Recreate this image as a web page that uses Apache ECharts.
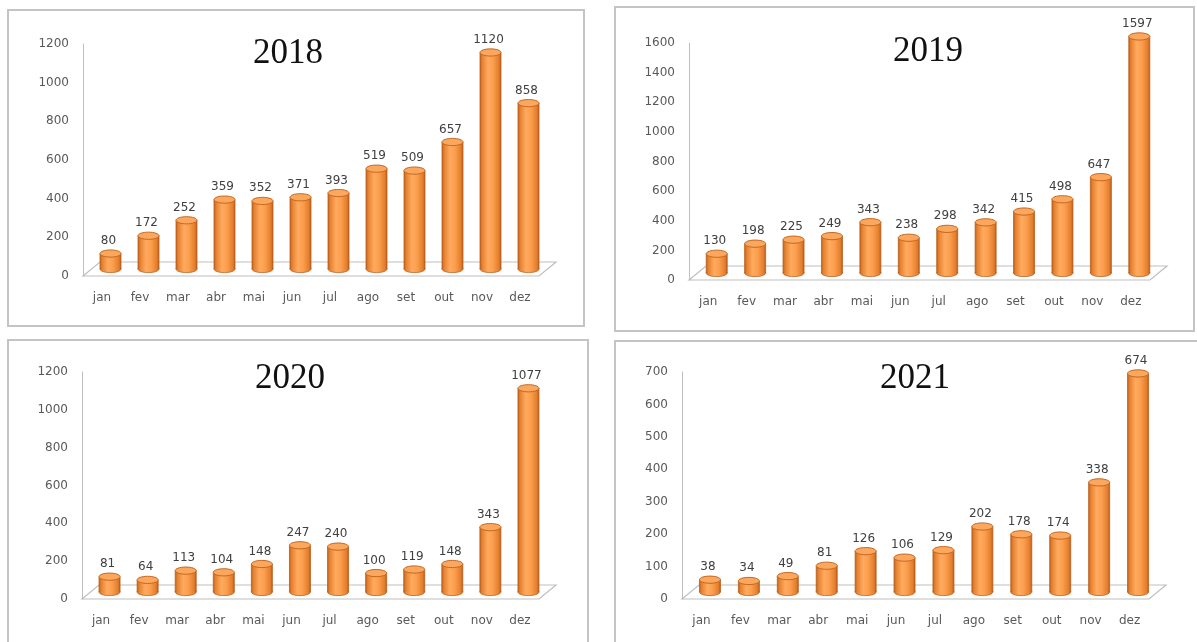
<!DOCTYPE html>
<html><head><meta charset="utf-8">
<script src="https://cdn.jsdelivr.net/npm/echarts@6/dist/echarts.min.js"></script>
<style>html,body{margin:0;padding:0;background:#fff}#c{width:1197px;height:642px}</style>
</head><body><div id="c"></div>
<script>
const months = ['jan','fev','mar','abr','mai','jun','jul','ago','set','out','nov','dez'];
const years = ['2018','2019','2020','2021'];
const v2018 = [80,172,252,359,352,371,393,519,509,657,1120,858];
const v2019 = [130,198,225,249,343,238,298,342,415,498,647,1597];
const v2020 = [81,64,113,104,148,247,240,100,119,148,343,1077];
const v2021 = [38,34,49,81,126,106,129,202,178,174,338,674];
const yMax = [1200,1600,1200,700];
const yStep = [200,200,200,100];
const seriesValues = [v2018, v2019, v2020, v2021];

// layout
const grids = [
  {left:83, top:44, width:456, height:232},
  {left:689, top:43, width:461, height:237},
  {left:82, top:372, width:457, height:227},
  {left:682, top:372, width:467, height:227}
];
const titlePos = [[283,31],[923,29],[285,356],[910,356]];
const panels = [
  {x:8, y:10, w:576, h:316},
  {x:615, y:7, w:579, h:324},
  {x:8, y:340, w:580, h:310},
  {x:615, y:341, w:590, h:310}
];
const DEPTH_X = 17, DEPTH_Y = -14;
const FONT = 'DejaVu Sans';

const chart = echarts.init(document.getElementById('c'), null, {renderer:'canvas'});

function renderCyl(params, api){
  const v = api.value(1);
  const p0 = api.coord([api.value(0), 0]);
  const p1 = api.coord([api.value(0), v]);
  const dx = DEPTH_X/2, dy = DEPTH_Y/2;
  const cx = p0[0] + dx, by = p0[1] + dy, ty = p1[1] + dy;
  const rx = 10.5, ry = 3.6;
  const grad = new echarts.graphic.LinearGradient(0,0,1,0,[
    {offset:0, color:'#BF611E'},
    {offset:0.1, color:'#E5812F'},
    {offset:0.38, color:'#FFAA5F'},
    {offset:0.62, color:'#FB9E4E'},
    {offset:0.9, color:'#E37E2D'},
    {offset:1, color:'#B85C1B'}
  ]);
  return {type:'group', children:[
    {type:'ellipse', shape:{cx:cx, cy:by, rx:rx, ry:ry}, style:{fill:grad, stroke:'#B9601F', lineWidth:0.8}},
    {type:'rect', shape:{x:cx-rx, y:ty, width:2*rx, height:Math.max(0,by-ty)}, style:{fill:grad}},
    {type:'line', shape:{x1:cx-rx, y1:ty, x2:cx-rx, y2:by}, style:{stroke:'#B9601F', lineWidth:0.8}},
    {type:'line', shape:{x1:cx+rx, y1:ty, x2:cx+rx, y2:by}, style:{stroke:'#B9601F', lineWidth:0.8}},
    {type:'ellipse', shape:{cx:cx, cy:ty, rx:rx, ry:ry}, style:{fill:'#FBA85E', stroke:'#C4661F', lineWidth:1}},
    {type:'text', style:{text:String(v), x:cx-2, y:ty-ry-3, align:'center', verticalAlign:'bottom',
      fill:'#404040', fontFamily:FONT, fontSize:12}}
  ]};
}

const option = {
  animation:false,
  backgroundColor:'#fff',
  title: years.map((y,i)=>({
    text:y, left:titlePos[i][0], top:titlePos[i][1], textAlign:'center',
    textStyle:{fontFamily:'Liberation Serif', fontSize:35, fontWeight:'normal', color:'#111'}
  })),
  grid: grids.map(g=>Object.assign({containLabel:false}, g)),
  xAxis: grids.map((g,i)=>({
    type:'category', gridIndex:i, data:months,
    axisLine:{show:false}, axisTick:{show:false},
    axisLabel:{color:'#595959', fontFamily:FONT, fontSize:12, margin:16}
  })),
  yAxis: grids.map((g,i)=>({
    type:'value', gridIndex:i, min:0, max:yMax[i], interval:yStep[i],
    axisLine:{show:true, lineStyle:{color:'#BFBFBF', width:1}}, axisTick:{show:false},
    splitLine:{show:false},
    axisLabel:{color:'#595959', fontFamily:FONT, fontSize:12, margin:14, formatter:(val)=>String(val)}
  })),
  series: seriesValues.map((vals,i)=>({
    type:'custom', xAxisIndex:i, yAxisIndex:i, z:5,
    renderItem:renderCyl,
    encode:{x:0, y:1},
    data: vals.map((v,j)=>[j, v])
  })),
  graphic: [].concat(
    panels.map(p=>({type:'rect', z:0, shape:{x:p.x, y:p.y, width:p.w, height:p.h},
      style:{fill:'#fff', stroke:'#C4C4C4', lineWidth:2}})),
    grids.map(g=>{
      const L=g.left, R=g.left+g.width, B=g.top+g.height;
      return {type:'polygon', z:1, shape:{points:[[L,B],[L+DEPTH_X,B+DEPTH_Y],[R+DEPTH_X,B+DEPTH_Y],[R,B]]},
        style:{fill:'#fff', stroke:'#BFBFBF', lineWidth:1.2}};
    })
  )
};
chart.setOption(option);
</script>
</body></html>
